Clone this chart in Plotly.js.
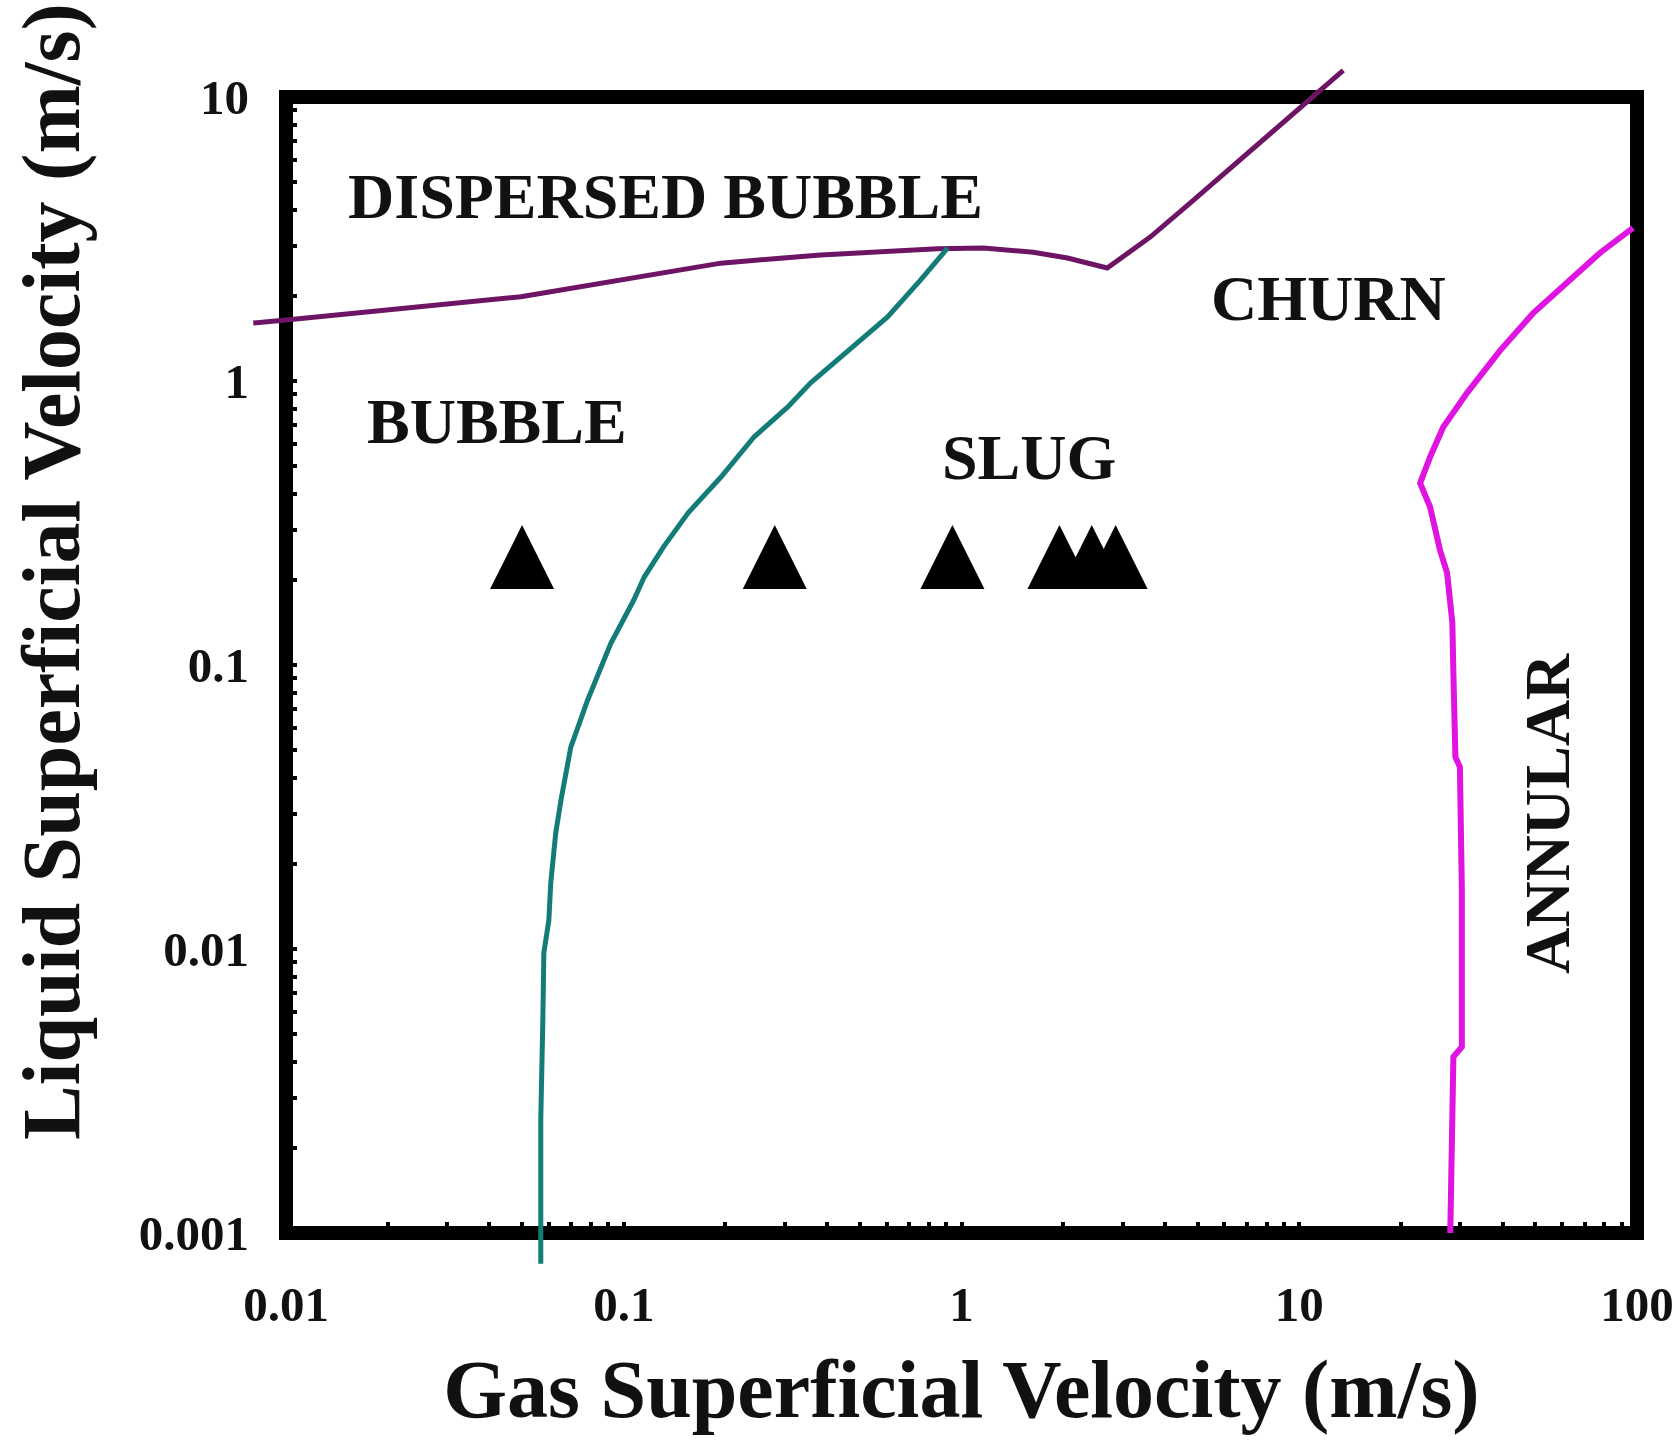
<!DOCTYPE html>
<html>
<head>
<meta charset="utf-8">
<script src="https://cdn.plot.ly/plotly-3.0.1.min.js"></script>
<style>
  html, body { margin: 0; padding: 0; background: #fff; }
  #chart { width: 1679px; height: 1447px; }
</style>
</head>
<body>
<div id="chart"></div>
<script>
// Flow-pattern map: gas vs liquid superficial velocity (m/s), log-log

// Dispersed-bubble / churn boundary
const dispersedX = [0.0080, 0.010, 0.0496, 0.098, 0.194, 0.383, 0.538, 0.85, 1.16, 1.63, 2.06, 2.70, 3.62, 4.76, 13.5];
const dispersedY = [1.60, 1.64, 1.98, 2.27, 2.60, 2.78, 2.84, 2.92, 2.94, 2.84, 2.71, 2.50, 3.21, 4.24, 12.4];

// Bubble / slug boundary
const bubbleSlugX = [0.0568, 0.0568, 0.0576, 0.058, 0.060, 0.0608, 0.0629, 0.0652, 0.0697, 0.0782, 0.0915, 0.107, 0.115, 0.131, 0.155, 0.194, 0.243, 0.306, 0.357, 0.479, 0.604, 0.757, 0.91];
const bubbleSlugY = [0.00078, 0.0025, 0.0056, 0.0097, 0.0126, 0.0171, 0.0256, 0.0335, 0.0514, 0.0753, 0.119, 0.169, 0.204, 0.260, 0.343, 0.459, 0.635, 0.81, 0.984, 1.32, 1.68, 2.27, 2.94];

// Churn / annular boundary
const annularX = [28.0, 28.4, 28.6, 30.3, 30.3, 29.9, 29.0, 28.6, 28.4, 27.4, 26.1, 24.4, 22.8, 24.4, 26.7, 31.4, 39.3, 49.2, 62.1, 77.8, 97.3];
const annularY = [0.001, 0.00201, 0.00417, 0.00452, 0.0161, 0.0437, 0.0474, 0.0938, 0.141, 0.211, 0.254, 0.360, 0.437, 0.540, 0.689, 0.908, 1.28, 1.73, 2.21, 2.83, 3.46];

// Experimental test points
const testGasVel = [0.05, 0.28, 0.94, 1.95, 2.43, 2.86];
const testLiqVel = [0.24, 0.24, 0.24, 0.24, 0.24, 0.24];

// Axis ticks
const xTickVals = [0.01, 0.1, 1, 10, 100];
const xTickText = ['0.01', '0.1', '1', '10', '100'];
const yTickVals = [0.001, 0.01, 0.1, 1, 10];
const yTickText = ['0.001', '0.01', '0.1', '1', '10'];

// Flow regime labels
const regimeNames = ['DISPERSED BUBBLE', 'BUBBLE', 'SLUG', 'CHURN', 'ANNULAR'];
const regimeX = [0.133, 0.042, 1.58, 12.2, 54.2];
const regimeY = [4.48, 0.72, 0.54, 1.96, 0.030];
const regimeAngle = [0, 0, 0, 0, -90];

// ---- geometry (pixels) ----
const W = 1679, H = 1447;
const BOX = { left: 286, right: 1637, top: 97, bottom: 1233 };   // frame line centres
const AREA = { left: 248, right: 1645, top: 58, bottom: 1272 };  // drawing area for curves
const areaW = AREA.right - AREA.left, areaH = AREA.bottom - AREA.top;
const decX = (BOX.right - BOX.left) / 4, decY = (BOX.bottom - BOX.top) / 4;

const xDom = [(BOX.left - AREA.left) / areaW, (BOX.right - AREA.left) / areaW];
const yDom = [(AREA.bottom - BOX.bottom) / areaH, (AREA.bottom - BOX.top) / areaH];
const x2Range = [-2 - (BOX.left - AREA.left) / decX, 2 + (AREA.right - BOX.right) / decX];
const y2Range = [-3 - (AREA.bottom - BOX.bottom) / decY, 1 + (BOX.top - AREA.top) / decY];

function minorTicks(e0, e1) {
  const v = [];
  for (let e = e0; e < e1; e++) for (let d = 2; d <= 9; d++) v.push(d * Math.pow(10, e));
  return v;
}

const SERIF = 'Liberation Serif, Times New Roman, serif';
const tickFont = { family: SERIF, size: 49, color: '#111', weight: 'bold' };
const MARK = 64;

const traces = [
  { x: dispersedX, y: dispersedY, xaxis: 'x2', yaxis: 'y2', mode: 'lines',
    line: { color: '#6e1464', width: 5 }, hoverinfo: 'skip', showlegend: false },
  { x: bubbleSlugX, y: bubbleSlugY, xaxis: 'x2', yaxis: 'y2', mode: 'lines',
    line: { color: '#147c78', width: 5 }, hoverinfo: 'skip', showlegend: false },
  { x: annularX, y: annularY, xaxis: 'x2', yaxis: 'y2', mode: 'lines',
    line: { color: '#e014e0', width: 6 }, hoverinfo: 'skip', showlegend: false },
  // solid up-pointing triangles centred on each test point
  { x: testGasVel, y: testLiqVel, xaxis: 'x2', yaxis: 'y2', mode: 'markers',
    marker: { symbol: 'arrow-down', angle: 180, size: MARK, standoff: MARK / 2, color: '#000', line: { width: 0 } },
    hoverinfo: 'skip', showlegend: false }
];

const annotations = regimeNames.map((t, i) => ({
  text: t, xref: 'x', yref: 'y',
  x: Math.log10(regimeX[i]), y: Math.log10(regimeY[i]),
  showarrow: false, textangle: regimeAngle[i],
  xanchor: 'center', yanchor: 'middle',
  font: { family: SERIF, size: 64, color: '#111', weight: 'bold' }
}));

annotations.push({
  text: 'Liquid Superficial Velocity (m/s)',
  xref: 'paper', yref: 'paper',
  x: (51 - AREA.left) / areaW, y: (AREA.bottom - 572) / areaH,
  showarrow: false, textangle: -90, xanchor: 'center', yanchor: 'middle',
  font: { family: SERIF, size: 82, color: '#111', weight: 'bold' }
});

const layout = {
  width: W, height: H,
  margin: { l: AREA.left, r: W - AREA.right, t: AREA.top, b: H - AREA.bottom, autoexpand: false },
  paper_bgcolor: '#fff', plot_bgcolor: 'rgba(0,0,0,0)',
  showlegend: false,
  xaxis: {
    type: 'log', range: [-2, 2], domain: xDom, anchor: 'y',
    showline: false, showgrid: false, zeroline: false,
    tickmode: 'array', tickvals: xTickVals, ticktext: xTickText,
    ticks: 'inside', ticklen: 11, tickwidth: 4, tickcolor: '#000',
    minor: { tickmode: 'array', tickvals: minorTicks(-2, 2), ticks: 'inside', ticklen: 11, tickwidth: 4, tickcolor: '#000' },
    tickfont: tickFont, ticklabelstandoff: 38,
    title: { text: 'Gas Superficial Velocity (m/s)', standoff: 28,
             font: { family: SERIF, size: 82, color: '#111', weight: 'bold' } },
    automargin: false
  },
  yaxis: {
    type: 'log', range: [-3, 1], domain: yDom, anchor: 'x',
    showline: false, showgrid: false, zeroline: false,
    tickmode: 'array', tickvals: yTickVals, ticktext: yTickText,
    ticks: 'inside', ticklen: 11, tickwidth: 4, tickcolor: '#000',
    minor: { tickmode: 'array', tickvals: minorTicks(-3, 1), ticks: 'inside', ticklen: 11, tickwidth: 4, tickcolor: '#000' },
    tickfont: tickFont, ticklabelstandoff: 36,
    automargin: false
  },
  xaxis2: { type: 'log', range: x2Range, domain: [0, 1], anchor: 'y2',
            visible: false, showgrid: false, zeroline: false, fixedrange: true },
  yaxis2: { type: 'log', range: y2Range, domain: [0, 1], anchor: 'x2',
            visible: false, showgrid: false, zeroline: false, fixedrange: true },
  shapes: [{
    type: 'rect', xref: 'paper', yref: 'paper', layer: 'below',
    x0: xDom[0], x1: xDom[1], y0: yDom[0], y1: yDom[1],
    line: { color: '#000', width: 14 }, fillcolor: 'rgba(0,0,0,0)'
  }],
  annotations: annotations
};

Plotly.newPlot('chart', traces, layout, { displayModeBar: false, staticPlot: true });
</script>
</body>
</html>
